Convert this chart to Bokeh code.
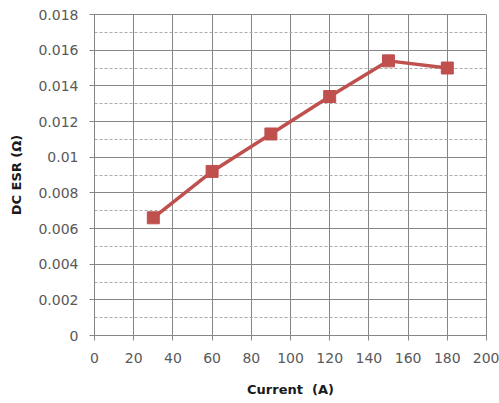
from bokeh.plotting import figure
from bokeh.models import FixedTicker, Range1d
from bokeh.embed import file_html
from bokeh.resources import INLINE

# Measured DC ESR versus current
current = [30, 60, 90, 120, 150, 180]
esr = [0.0066, 0.0092, 0.0113, 0.0134, 0.0154, 0.0150]

x_ticks = [0, 20, 40, 60, 80, 100, 120, 140, 160, 180, 200]
y_ticks = [0, 0.002, 0.004, 0.006, 0.008, 0.01, 0.012, 0.014, 0.016, 0.018]
y_minor = [0.001, 0.003, 0.005, 0.007, 0.009, 0.011, 0.013, 0.015, 0.017]
y_labels = ["0", "0.002", "0.004", "0.006", "0.008", "0.01", "0.012", "0.014", "0.016", "0.018"]

RED = "#C0504D"
GRID = "#868686"
TXT = "#595959"

p = figure(width=499, height=403, output_backend="svg", toolbar_location=None,
           x_range=Range1d(0, 200), y_range=Range1d(0, 0.018),
           min_border_left=94, min_border_right=13, min_border_top=14, min_border_bottom=68)
p.background_fill_color = "white"
p.border_fill_color = "white"
p.outline_line_color = GRID
p.outline_line_width = 1

p.xaxis.ticker = FixedTicker(ticks=x_ticks)
p.yaxis.ticker = FixedTicker(ticks=y_ticks, minor_ticks=y_minor)
p.yaxis.major_label_overrides = {t: s for t, s in zip(y_ticks, y_labels)}

for ax in (p.xaxis, p.yaxis):
    ax.axis_line_color = GRID
    ax.major_tick_line_color = GRID
    ax.major_tick_out = 5
    ax.major_tick_in = 0
    ax.minor_tick_line_color = None
    ax.major_label_text_color = TXT
    ax.major_label_text_font = "DejaVu Sans"
    ax.major_label_text_font_size = "14px"
    ax.axis_label_text_font = "DejaVu Sans"
    ax.axis_label_text_font_style = "bold"
    ax.axis_label_text_font_size = "13px"
    ax.axis_label_text_color = "#1a1a1a"

p.xaxis.axis_label = "Current\u00a0\u00a0(A)"
p.yaxis.axis_label = "DC ESR (\u03a9)"
p.xaxis.major_label_standoff = 12
p.yaxis.major_label_standoff = 11
p.xaxis.axis_label_standoff = 16
p.yaxis.axis_label_standoff = 11

p.xgrid.grid_line_color = GRID
p.xgrid.grid_line_width = 1
p.ygrid.grid_line_color = GRID
p.ygrid.grid_line_width = 1
p.ygrid.minor_grid_line_color = "#ababab"
p.ygrid.minor_grid_line_dash = "3 2"

p.line(current, esr, line_color=RED, line_width=3.5)
p.scatter(current, esr, marker="square", size=12, fill_color=RED, line_color=RED)

open("out.html", "w").write(file_html(p, INLINE))
